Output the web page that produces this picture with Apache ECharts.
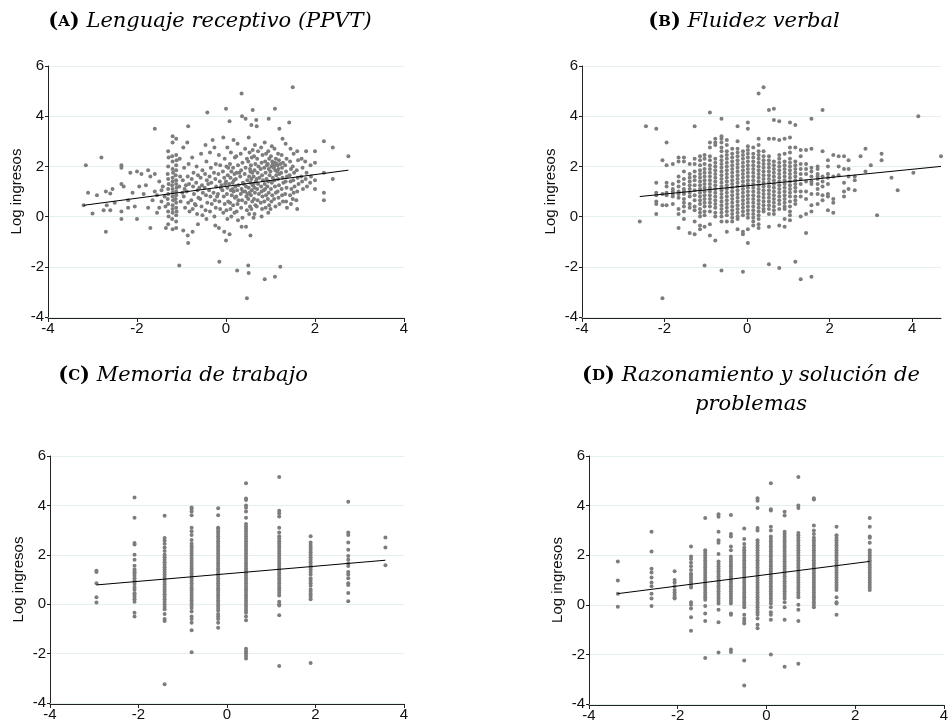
<!DOCTYPE html>
<html><head><meta charset="utf-8">
<script src="https://cdn.jsdelivr.net/npm/echarts@6/dist/echarts.min.js"></script>
<style>html,body{margin:0;padding:0;background:#fff}#c{width:951px;height:723px}</style>
</head><body><div id="c"></div>
<script>
// ---------- DATA ----------
const titlesLetter = ['A','B','C','D'];
const titlesText = ['Lenguaje receptivo (PPVT)','Fluidez verbal','Memoria de trabajo','Razonamiento y solución de\nproblemas'];
const yName = 'Log ingresos';
const xTicks = [-4,-2,0,2,4];

// Panel A: (score, log income) pairs
const aPts = [
[-3.15,2.05],[-3.1,0.95],[-3.0,0.12],[-2.8,2.35],[-2.75,0.25],[-2.7,-0.6],[-2.7,1.0],[-2.68,0.45],[-2.55,1.1],[-2.6,0.92],[-2.6,0.25],[-2.35,2.05],[-2.35,1.95],[-2.35,1.3],[-2.3,1.2],[-2.35,0.2],[-2.35,-0.1],[-2.2,0.65],[-2.15,1.75],[-2.2,0.35],[-2.05,0.4],[-2.0,1.8],[-1.95,1.2],[-2.0,-0.1],[-1.9,1.7],[-1.85,0.9],[-1.75,1.85],[-1.75,0.35],[-1.7,-0.45],[-1.7,1.6],[-1.6,3.5],[-1.6,1.7],[-1.6,1.0],[-1.55,0.85],[-1.55,0.15],[-1.5,1.4],[-1.45,0.6],[-1.42,1.2],[-1.38,0.8],[-1.36,0.4],[-1.35,-0.45],[-1.45,1.05],[-1.5,0.35],[-1.65,0.65],[-1.8,1.25],[-2.1,0.95],[-2.5,0.55],[-2.9,0.85],[-3.2,0.45],
[-1.3,2.6],[-1.29,2.35],[-1.3,2.0],[-1.31,1.7],[-1.3,1.5],[-1.29,1.3],[-1.3,1.1],[-1.3,0.9],[-1.31,0.7],[-1.3,0.5],[-1.3,0.2],[-1.29,0.0],[-1.3,-0.3],
[-1.2,3.2],[-1.2,2.95],[-1.21,2.4],[-1.2,2.2],[-1.2,1.9],[-1.19,1.75],[-1.2,1.55],[-1.2,1.4],[-1.21,1.25],[-1.2,1.1],[-1.2,0.95],[-1.2,0.8],[-1.19,0.65],[-1.2,0.45],[-1.2,0.3],[-1.2,0.15],[-1.21,-0.1],[-1.2,-0.5],
[-1.12,3.1],[-1.12,2.45],[-1.11,2.25],[-1.12,2.05],[-1.12,1.85],[-1.13,1.65],[-1.12,1.45],[-1.12,1.3],[-1.11,1.15],[-1.12,1.0],[-1.12,0.85],[-1.13,0.7],[-1.12,0.55],[-1.12,0.35],[-1.11,0.2],[-1.12,0.05],[-1.12,-0.2],[-1.12,-0.45],
[-1.05,-1.95],[-1.04,2.3],[-1.03,1.6],[-1.05,1.2],[-1.02,0.6],
[-0.96,2.75],[-0.94,1.95],[-0.97,1.45],[-0.93,1.1],[-0.95,0.8],[-0.92,0.35],[-0.96,-0.55],
[-0.85,3.6],[-0.87,2.95],[-0.84,2.1],[-0.86,1.6],[-0.83,1.3],[-0.88,1.0],[-0.85,0.55],[-0.82,0.2],[-0.86,-0.75],[-0.85,-1.05],
[-0.76,2.35],[-0.73,1.75],[-0.77,1.5],[-0.74,1.2],[-0.72,0.9],[-0.78,0.65],[-0.75,0.3],[-0.75,-0.6],
[-0.66,2.0],[-0.63,1.65],[-0.67,1.35],[-0.64,1.05],[-0.62,0.75],[-0.68,0.45],[-0.65,0.1],[-0.63,-0.3],
[-0.56,2.5],[-0.53,1.85],[-0.57,1.55],[-0.54,1.25],[-0.52,0.95],[-0.58,0.7],[-0.55,0.4],[-0.53,0.05],
[-0.42,4.15],[-0.46,2.85],[-0.44,2.2],[-0.47,1.7],[-0.43,1.45],[-0.48,1.15],[-0.45,0.85],[-0.42,0.55],[-0.46,0.25],[-0.44,-0.1],
[-0.3,3.05],[-0.36,2.55],[-0.34,1.95],[-0.37,1.6],[-0.33,1.35],[-0.38,1.05],[-0.35,0.8],[-0.32,0.5],[-0.36,0.2],
[-0.26,2.75],[-0.23,2.1],[-0.27,1.75],[-0.24,1.5],[-0.22,1.2],[-0.28,0.95],[-0.25,0.65],[-0.23,0.35],[-0.26,0.0],[-0.24,-0.35],
[-0.16,2.45],[-0.13,2.05],[-0.17,1.7],[-0.14,1.4],[-0.12,1.15],[-0.18,0.9],[-0.15,0.6],[-0.13,0.3],[-0.16,-0.45],[-0.15,-1.8],
[-0.06,3.15],[-0.03,2.3],[-0.07,1.8],[-0.04,1.55],[-0.02,1.3],[-0.08,1.05],[-0.05,0.8],[-0.03,0.5],[-0.06,0.15],[-0.04,-0.6],
[0.0,4.3],[0.03,2.75],[0.01,2.0],[0.04,1.65],[0.0,1.4],[0.03,1.15],[0.02,0.9],[0.05,0.6],[0.01,0.25],[0.03,-0.1],[0.0,-0.95],
[0.08,3.8],[0.11,2.55],[0.09,2.1],[0.12,1.8],[0.1,1.55],[0.07,1.3],[0.11,1.05],[0.13,0.85],[0.09,0.55],[0.1,0.3],[0.12,0.0],[0.08,-0.7],
[0.17,3.05],[0.2,2.35],[0.16,1.95],[0.19,1.7],[0.18,1.45],[0.21,1.2],[0.17,1.0],[0.2,0.75],[0.16,0.45],[0.19,0.15],
[0.26,2.9],[0.23,2.4],[0.27,2.05],[0.24,1.75],[0.22,1.5],[0.28,1.25],[0.25,1.05],[0.23,0.8],[0.26,0.5],[0.24,0.2],[0.27,-0.15],[0.25,-2.15],
[0.35,4.9],[0.36,4.0],[0.33,2.5],[0.37,2.15],[0.34,1.85],[0.32,1.6],[0.38,1.35],[0.35,1.1],[0.33,0.9],[0.36,0.65],[0.34,0.35],[0.37,-0.05],[0.35,-0.4],
[0.44,3.9],[0.43,2.7],[0.47,2.3],[0.44,1.95],[0.42,1.7],[0.48,1.45],[0.45,1.2],[0.43,1.0],[0.46,0.8],[0.44,0.55],[0.47,0.25],[0.45,-0.4],[0.47,-3.25],
[0.51,3.15],[0.53,2.55],[0.5,2.2],[0.54,1.9],[0.52,1.6],[0.55,1.35],[0.51,1.15],[0.53,0.95],[0.5,0.7],[0.54,0.4],[0.52,0.1],[0.55,-0.75],[0.5,-1.95],[0.51,-2.25],
[0.57,3.65],[0.6,2.65],[0.58,2.35],[0.56,2.05],[0.59,1.75],[0.57,1.5],[0.6,1.25],[0.58,1.05],[0.56,0.85],[0.59,0.6],[0.57,0.3],
[0.6,4.25],[0.65,2.85],[0.63,2.4],[0.66,2.1],[0.64,1.85],[0.62,1.6],[0.67,1.4],[0.64,1.15],[0.65,0.95],[0.63,0.7],[0.66,0.45],[0.64,0.1],[0.62,-0.05],
[0.68,3.85],[0.69,3.6],[0.72,2.6],[0.7,2.3],[0.73,2.0],[0.71,1.75],[0.69,1.5],[0.72,1.3],[0.7,1.1],[0.74,0.9],[0.71,0.65],[0.69,0.4],
[0.79,2.75],[0.82,2.45],[0.8,2.15],[0.78,1.9],[0.81,1.65],[0.83,1.45],[0.79,1.2],[0.8,1.0],[0.82,0.8],[0.78,0.55],[0.81,0.3],[0.8,0.0],
[0.87,2.95],[0.9,2.5],[0.88,2.2],[0.86,1.95],[0.89,1.75],[0.91,1.5],[0.87,1.3],[0.88,1.1],[0.9,0.85],[0.86,0.6],[0.89,0.35],[0.87,-2.5],
[0.96,3.9],[0.95,2.6],[0.97,2.3],[0.94,2.1],[0.96,1.9],[0.98,1.65],[0.95,1.4],[0.93,1.2],[0.96,0.95],[0.94,0.7],[0.97,0.45],[0.95,0.15],
[1.03,2.8],[1.01,2.4],[1.04,2.2],[1.02,2.0],[1.0,1.8],[1.05,1.55],[1.03,1.35],[1.01,1.1],[1.04,0.85],[1.02,0.6],[1.0,0.3],
[1.1,4.3],[1.09,2.7],[1.12,2.3],[1.1,2.15],[1.08,2.0],[1.11,1.85],[1.13,1.65],[1.09,1.45],[1.1,1.2],[1.12,0.95],[1.08,0.7],[1.11,0.4],[1.1,-2.4],
[1.2,3.5],[1.17,2.5],[1.19,2.25],[1.16,2.05],[1.18,1.9],[1.2,1.7],[1.17,1.5],[1.19,1.25],[1.16,1.0],[1.18,0.75],[1.2,0.5],[1.22,-2.0],
[1.27,3.1],[1.25,2.45],[1.28,2.15],[1.26,1.95],[1.24,1.75],[1.27,1.55],[1.29,1.35],[1.25,1.1],[1.26,0.85],[1.28,0.6],
[1.34,2.9],[1.36,2.3],[1.33,2.05],[1.35,1.8],[1.37,1.6],[1.34,1.4],[1.36,1.15],[1.33,0.9],[1.35,0.6],[1.37,0.35],
[1.42,3.75],[1.45,2.7],[1.44,2.2],[1.46,1.9],[1.43,1.65],[1.45,1.4],[1.47,1.1],[1.44,0.85],[1.46,0.5],
[1.5,5.15],[1.52,2.5],[1.5,2.0],[1.53,1.75],[1.51,1.45],[1.54,1.2],[1.52,0.95],[1.5,0.7],
[1.6,2.6],[1.62,2.25],[1.59,1.85],[1.61,1.55],[1.63,1.3],[1.6,1.0],[1.58,0.65],[1.6,0.3],
[1.7,2.3],[1.72,1.95],[1.69,1.6],[1.71,1.4],[1.73,1.1],
[1.8,2.6],[1.78,2.2],[1.81,1.75],[1.79,1.5],[1.82,1.2],
[1.9,2.05],[1.91,1.6],[1.89,1.35],
[2.0,2.6],[2.0,2.15],[2.0,1.45],[2.0,1.1],
[2.2,3.0],[2.2,1.75],[2.2,0.95],[2.2,0.65],
[2.4,2.75],[2.4,1.5],[2.75,2.4],
[0.05,1.95],[0.15,1.1],[0.3,1.75],[0.4,1.3],[0.55,1.8],[0.75,1.55],[0.85,1.05],[0.92,2.05],[1.05,2.1],[1.07,1.95],[1.14,2.1],[1.15,1.8],[1.22,2.1],[0.62,1.3],[0.48,0.9],[0.38,1.0],[0.28,0.65],[0.15,1.35],[-0.1,1.25],[-0.2,0.8],[-0.4,1.3],[-0.6,1.15],[-0.7,0.5],[-0.9,1.25],[-0.98,0.95]
];

// Panel B: score columns and the log incomes observed at each
const bX = [-2.6,-2.45,-2.2,-2.05,-1.95,-1.8,-1.66,-1.53,-1.39,-1.27,-1.14,-1.03,-0.9,-0.77,-0.62,-0.49,-0.36,-0.23,-0.1,0.02,0.15,0.28,0.40,0.53,0.65,0.78,0.91,1.04,1.17,1.30,1.43,1.56,1.71,1.83,1.96,2.09,2.22,2.35,2.46,2.61,2.75,2.87,3.0,3.15,3.26,3.5,3.65,4.03,4.15,4.7];
const bY = [
[-0.2],[3.6],[3.5,1.35,0.95,0.85,0.6,0.5,0.1],[2.25,0.9,0.45,-3.25],[2.95,2.05,1.35,1.2,0.95,0.85,0.45],[2.1,1.3,1.1,1.0,0.9,0.8,0.5],
[2.35,2.2,1.6,1.4,1.2,1.0,0.9,0.75,0.3,0.1,-0.45],
[2.35,2.2,1.8,1.5,1.3,1.1,1.0,0.9,0.7,0.55,0.4,0.2,-0.1],
[2.1,1.7,1.55,1.4,1.25,1.1,0.95,0.8,0.5,0.35,-0.65],
[3.6,2.3,2.1,1.8,1.6,1.45,1.25,1.05,0.85,0.65,0.4,0.25,-0.2,-0.7],
[2.4,2.25,2.05,1.85,1.7,1.55,1.4,1.25,1.1,0.95,0.8,0.65,0.5,0.3,0.15,0.0,-0.35,-0.5],
[2.45,2.3,2.1,1.9,1.75,1.6,1.45,1.3,1.15,1.0,0.85,0.7,0.55,0.4,0.2,0.05,-0.4,-1.95],
[4.15,2.95,2.75,2.4,2.25,2.05,1.9,1.75,1.6,1.45,1.3,1.15,1.0,0.85,0.7,0.55,0.4,0.2,-0.3,-0.75],
[3.1,2.95,2.85,2.3,2.15,2.0,1.85,1.7,1.55,1.4,1.25,1.1,0.95,0.8,0.65,0.5,0.35,0.15,0.0,-0.95],
[3.9,3.2,3.1,2.95,2.75,2.6,2.4,2.25,2.1,1.95,1.8,1.65,1.5,1.35,1.2,1.05,0.9,0.75,0.6,0.45,0.3,0.15,0.0,-0.2,-2.15],
[3.05,2.85,2.6,2.45,2.3,2.15,2.0,1.85,1.7,1.55,1.4,1.25,1.1,0.95,0.8,0.65,0.5,0.35,0.2,0.05,-0.2,-0.6],
[2.7,2.5,2.35,2.2,2.05,1.9,1.75,1.6,1.45,1.3,1.15,1.0,0.85,0.7,0.55,0.4,0.25,0.1,-0.05,-0.2],
[3.6,3.0,2.7,2.55,2.4,2.25,2.1,1.95,1.8,1.65,1.5,1.35,1.2,1.05,0.9,0.75,0.6,0.45,0.3,0.15,0.0,-0.1,-0.5],
[2.6,2.45,2.3,2.15,2.0,1.85,1.7,1.55,1.4,1.25,1.1,0.95,0.8,0.65,0.5,0.35,0.2,0.05,-0.6,-0.7,-2.2],
[3.75,3.5,2.8,2.65,2.5,2.35,2.2,2.05,1.9,1.75,1.6,1.45,1.3,1.15,1.0,0.85,0.7,0.55,0.4,0.25,0.1,-0.05,-0.5,-1.05],
[2.75,2.5,2.35,2.2,2.05,1.9,1.75,1.6,1.45,1.3,1.15,1.0,0.85,0.7,0.55,0.4,0.25,0.1,-0.05,-0.2,-0.35],
[4.9,3.1,2.85,2.6,2.45,2.3,2.15,2.0,1.85,1.7,1.55,1.4,1.25,1.1,0.95,0.8,0.65,0.5,0.35,0.2,0.05,-0.1,-0.3,-0.45],
[5.15,2.6,2.4,2.25,2.1,1.95,1.8,1.65,1.5,1.35,1.2,1.05,0.9,0.75,0.6,0.45,0.3,0.2],
[4.25,3.1,2.4,2.25,2.1,1.95,1.8,1.65,1.5,1.35,1.2,1.05,0.9,0.75,0.6,0.45,0.3,0.1,-0.4,-1.9],
[4.3,3.85,3.1,2.2,2.05,1.9,1.75,1.6,1.45,1.3,1.15,1.0,0.85,0.7,0.55,0.4,0.25,0.1],
[3.8,3.05,2.45,2.3,2.15,2.0,1.85,1.7,1.55,1.4,1.25,1.1,0.95,0.8,0.65,0.5,0.3,-0.35,-2.05],
[3.1,2.5,2.2,2.05,1.9,1.75,1.6,1.45,1.3,1.15,1.0,0.85,0.7,0.55,0.4,0.3,-0.1,-0.4],
[3.75,3.15,2.75,2.55,2.3,2.15,2.0,1.85,1.7,1.55,1.4,1.25,1.1,0.95,0.8,0.6,0.4,0.2,0.05,-0.15],
[3.65,2.75,2.2,2.05,1.9,1.75,1.6,1.45,1.3,1.15,1.0,0.8,0.65,0.5,-1.8],
[2.65,2.4,2.1,1.9,1.7,1.5,1.3,1.0,0.8,0.0,-2.5],
[2.65,2.1,1.9,1.7,1.4,1.0,0.7,0.1,-0.65],
[3.9,2.7,1.95,1.8,1.6,1.4,1.3,0.9,0.45,0.2,-2.4],
[2.0,1.9,1.7,1.6,1.5,1.3,1.1,0.9,0.5],
[4.25,2.6,1.6,1.4,1.2,0.85,0.65],
[2.25,2.0,1.7,1.55,1.3,0.9,0.8,0.25],
[2.45,1.6,0.7,0.55,0.15],
[2.4,2.0,1.65],
[2.4,1.9,1.35,1.0,0.8],
[2.25,1.9,1.6,1.1],
[1.6,1.45,1.05],
[2.4],[2.7,1.8],[2.05],[0.05],[2.5,2.25],[1.55],[1.05],[1.75],[4.0],[2.4]
];

// Panel C: score columns and log incomes
const cX = [-2.95,-2.09,-1.41,-0.8,-0.2,0.43,1.18,1.89,2.74,3.58];
const cY = [
[1.35,1.3,0.85,0.28,0.07],
[4.32,3.5,2.48,2.42,2.0,1.8,1.56,1.4,1.32,1.25,1.15,1.05,0.95,0.9,0.82,0.7,0.6,0.45,0.4,0.3,0.2,0.1,-0.35,-0.5],
[3.58,2.68,2.58,2.45,2.3,2.15,2.0,1.9,1.8,1.7,1.6,1.5,1.4,1.3,1.2,1.1,1.0,0.9,0.8,0.7,0.6,0.5,0.4,0.3,0.2,0.1,0.0,-0.1,-0.2,-0.4,-0.6,-0.68,-3.24],
[3.92,3.85,3.75,3.6,3.1,2.95,2.8,2.6,2.45,2.35,2.25,2.15,2.05,1.95,1.85,1.75,1.65,1.55,1.45,1.35,1.25,1.15,1.05,0.95,0.85,0.75,0.65,0.55,0.45,0.35,0.25,0.15,0.05,-0.05,-0.15,-0.3,-0.5,-0.6,-0.75,-1.05,-1.95],
[3.88,3.6,3.1,3.05,2.95,2.85,2.75,2.65,2.55,2.45,2.35,2.25,2.15,2.05,1.95,1.85,1.75,1.65,1.55,1.45,1.35,1.25,1.15,1.05,0.95,0.85,0.75,0.65,0.55,0.45,0.35,0.25,0.15,0.05,-0.05,-0.15,-0.25,-0.4,-0.5,-0.6,-0.75,-0.95],
[4.9,4.28,4.22,4.0,3.9,3.75,3.5,3.25,3.15,3.05,2.95,2.85,2.75,2.65,2.55,2.45,2.35,2.25,2.15,2.05,1.95,1.85,1.75,1.65,1.55,1.45,1.35,1.25,1.15,1.05,0.95,0.85,0.75,0.65,0.55,0.45,0.35,0.25,0.15,0.05,-0.05,-0.15,-0.25,-0.35,-0.5,-0.65,-1.8,-1.9,-2.0,-2.1,-2.2],
[5.15,3.78,3.68,3.55,3.1,2.9,2.75,2.65,2.55,2.45,2.35,2.25,2.15,2.05,1.95,1.85,1.75,1.65,1.55,1.45,1.35,1.25,1.15,1.05,0.95,0.85,0.75,0.65,0.55,0.45,0.35,0.1,0.0,-0.05,-0.45,-2.5],
[2.75,2.5,2.4,2.3,2.2,2.1,2.0,1.9,1.8,1.7,1.6,1.5,1.4,1.3,1.2,1.05,0.95,0.85,0.75,0.6,0.5,0.4,0.3,0.2,-2.38],
[4.15,2.9,2.8,2.5,2.2,1.95,1.8,1.65,1.55,1.3,1.2,1.05,0.85,0.78,0.45,0.12],
[2.7,2.3,1.58]
];

// Panel D: score columns and log incomes
const dX = [-3.35,-2.59,-2.07,-1.70,-1.38,-1.08,-0.80,-0.50,-0.20,0.10,0.41,0.72,1.07,1.58,2.33];
const dY = [
[1.75,0.98,0.45,-0.08],
[2.95,2.15,1.45,1.3,1.1,0.9,0.75,0.45,0.25,-0.05],
[1.35,1.0,0.9,0.75,0.6,0.5,0.4,0.3,0.25],
[2.35,1.95,1.85,1.7,1.55,1.4,1.25,1.2,1.1,1.0,0.9,0.8,0.7,0.1,0.0,-0.15,-0.5,-1.05],
[3.5,2.2,2.1,2.0,1.9,1.8,1.7,1.6,1.5,1.4,1.3,1.2,1.1,1.0,0.9,0.8,0.7,0.6,0.5,0.4,0.3,0.2,-0.05,-0.35,-0.65,-2.15],
[3.65,3.55,2.95,2.6,2.5,2.05,1.75,1.65,1.55,1.45,1.35,1.25,1.15,1.05,0.95,0.85,0.75,0.65,0.55,0.45,0.35,0.25,0.15,0.05,-0.2,-0.7,-1.92],
[3.62,2.85,2.75,2.35,2.2,1.95,1.85,1.75,1.65,1.55,1.45,1.35,1.25,1.15,1.05,0.95,0.85,0.75,0.65,0.55,0.45,0.35,0.25,0.15,0.05,-0.35,-0.4,-1.8,-1.9],
[3.08,2.65,2.45,2.3,2.2,2.1,2.0,1.9,1.8,1.7,1.6,1.5,1.4,1.3,1.2,1.1,1.0,0.9,0.8,0.7,0.6,0.5,0.4,0.3,0.2,0.1,0.0,-0.1,-0.4,-0.55,-0.65,-0.75,-2.25,-3.25],
[4.3,4.2,3.9,3.1,3.0,2.6,2.5,2.4,2.3,2.2,2.1,2.0,1.9,1.8,1.7,1.6,1.5,1.4,1.3,1.2,1.1,1.0,0.9,0.8,0.7,0.6,0.5,0.4,0.3,0.2,0.1,0.0,-0.1,-0.2,-0.3,-0.4,-0.55,-0.8,-0.95],
[4.9,3.85,3.8,3.15,3.0,2.75,2.65,2.55,2.45,2.35,2.25,2.15,2.05,1.95,1.85,1.75,1.65,1.55,1.45,1.35,1.25,1.15,1.05,0.95,0.85,0.75,0.65,0.55,0.45,0.35,0.25,0.15,0.05,-0.1,-0.3,-0.4,-0.6,-2.0],
[3.75,3.6,2.95,2.85,2.75,2.65,2.55,2.45,2.35,2.25,2.15,2.05,1.95,1.85,1.75,1.65,1.55,1.45,1.35,1.25,1.15,1.05,0.95,0.85,0.75,0.65,0.55,0.45,0.35,0.25,0.1,-0.1,-0.6,-2.5],
[5.15,4.0,3.9,2.9,2.8,2.7,2.6,2.5,2.4,2.3,2.2,2.1,2.0,1.9,1.8,1.7,1.6,1.5,1.4,1.3,1.2,1.1,1.0,0.9,0.8,0.7,0.6,0.5,0.4,0.3,0.0,-0.2,-0.65,-2.38],
[4.3,4.25,3.2,3.0,2.85,2.7,2.6,2.5,2.4,2.3,2.2,2.1,2.0,1.9,1.8,1.7,1.6,1.5,1.4,1.3,1.2,1.1,1.0,0.9,0.8,0.7,0.6,0.5,0.4,0.3,0.2,0.1,0.0,-0.1],
[3.15,2.8,2.7,2.6,2.5,2.4,2.3,2.2,2.1,2.0,1.9,1.8,1.7,1.6,1.5,1.4,1.3,1.2,1.1,1.0,0.9,0.8,0.7,0.6,0.3,0.1,0.05,-0.4],
[3.5,3.15,2.75,2.7,2.5,2.2,2.1,2.0,1.9,1.8,1.7,1.6,1.5,1.4,1.3,1.2,1.1,1.0,0.9,0.8,0.7,0.6]
];

// Fitted lines (endpoints)
const fitA = [[-3.2,0.45],[2.75,1.85]];
const fitB = [[-2.6,0.8],[4.7,2.0]];
const fitC = [[-2.95,0.78],[3.58,1.78]];
const fitD = [[-3.35,0.45],[2.33,1.75]];

// ---------- CHART ----------
function pairCols(xs, ys){ const out=[]; xs.forEach((x,i)=>ys[i].forEach(y=>out.push([x,y]))); return out; }
const panels = [
  {pts:aPts, fit:fitA, xmax:4, grid:{left:48, top:66, width:356, height:251}, title:{x:210, y:22}},
  {pts:pairCols(bX,bY), fit:fitB, xmax:4.7, grid:{left:582, top:66, width:359, height:251}, title:{x:744, y:22}},
  {pts:pairCols(cX,cY), fit:fitC, xmax:4, grid:{left:50, top:456, width:354, height:247}, title:{x:183, y:376}},
  {pts:pairCols(dX,dY), fit:fitD, xmax:4, grid:{left:589, top:456, width:357, height:248}, title:{x:751, y:376}}
];
const sans = 'Liberation Sans, Arial, sans-serif';
const serif = 'DejaVu Serif, serif';
const option = {
  backgroundColor:'#fff',
  animation:false,
  grid: panels.map(p=>Object.assign({containLabel:false}, p.grid)),
  xAxis: panels.map((p,i)=>({
    type:'value', gridIndex:i, min:-4, max:p.xmax, offset:1,
    axisLine:{show:true, onZero:false, lineStyle:{color:'#222', width:1}},
    axisTick:{show:true, length:4, lineStyle:{color:'#222'}, customValues:xTicks},
    axisLabel:{color:'#111', fontSize:15, fontFamily:sans, margin:3, customValues:xTicks},
    splitLine:{show:false}
  })),
  yAxis: panels.map((p,i)=>({
    type:'value', gridIndex:i, min:-4, max:6, interval:2,
    name:yName, nameLocation:'middle', nameGap:24,
    nameTextStyle:{color:'#111', fontSize:15, fontFamily:sans},
    axisLine:{show:true, onZero:false, lineStyle:{color:'#222', width:1}},
    axisTick:{show:true, length:3, lineStyle:{color:'#222'}},
    axisLabel:{color:'#111', fontSize:15, fontFamily:sans, margin:4},
    splitLine:{show:true, lineStyle:{color:'#e6eff0', width:1}}
  })),
  series: [].concat(...panels.map((p,i)=>[
    {type:'scatter', xAxisIndex:i, yAxisIndex:i, data:p.pts, symbolSize:4,
     itemStyle:{color:'#7d7d7d', opacity:1}, silent:true},
    {type:'line', xAxisIndex:i, yAxisIndex:i, data:p.fit, showSymbol:false, symbol:'none',
     lineStyle:{color:'#000', width:1}, silent:true, z:5}
  ])),
  graphic: panels.map((p,i)=>({
    type:'text', x:p.title.x, y: i===3 ? p.title.y-14.5 : p.title.y,
    style:{
      text:'{p|(}{sc|'+titlesLetter[i]+'}{p|)}{it| '+titlesText[i].replace('\n','}\n{it|')+'}',
      align:'center', verticalAlign: i===3 ? 'top' : 'middle',
      rich:{
        p:{fontFamily:serif, fontWeight:'bold', fontSize:21, fill:'#000', lineHeight:29},
        sc:{fontFamily:serif, fontWeight:'bold', fontSize:15, fill:'#000', lineHeight:29},
        it:{fontFamily:serif, fontStyle:'italic', fontSize:21, fill:'#000', lineHeight:29}
      }
    }
  }))
};
const chart = echarts.init(document.getElementById('c'), null, {renderer:'canvas'});
chart.setOption(option);
</script>
</body></html>
